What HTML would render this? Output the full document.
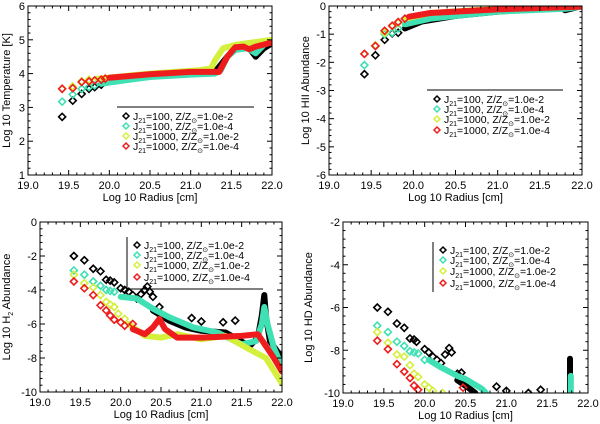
<!DOCTYPE html>
<html><head><meta charset="utf-8"><style>
html,body{margin:0;padding:0;background:#fff;}
svg{display:block;font-family:"Liberation Sans",sans-serif;}
</style></head><body>
<svg id="fig" width="600" height="424" viewBox="0 0 600 424" xmlns="http://www.w3.org/2000/svg"></svg>
<script>
// ---- data ----
const seriesNames = ["Z1e-2_J100","Z1e-4_J100","Z1e-2_J1000","Z1e-4_J1000"];
const seriesColors = ["#000000","#3ee0b4","#d4f03c","#ee1c1c"];
const legendJ = ["100","100","1000","1000"];
const legendZ = ["1.0e-2","1.0e-4","1.0e-2","1.0e-4"];
const xTicks = [19.0,19.5,20.0,20.5,21.0,21.5,22.0];
const xTickLabels = ["19.0","19.5","20.0","20.5","21.0","21.5","22.0"];

// Panel 1: temperature
const tempYTicks = [1,2,3,4,5,6];
const tempPtsX = [
 [19.42,19.55,19.66,19.75,19.82,19.9],
 [19.42,19.55,19.66,19.75,19.82],
 [19.42,19.55,19.66,19.75],
 [19.42,19.55,19.66,19.75,19.82,19.9,19.95]];
const tempPtsY = [
 [2.72,3.2,3.4,3.55,3.6,3.67],
 [3.17,3.38,3.55,3.6,3.65],
 [3.55,3.62,3.77,3.82],
 [3.55,3.57,3.75,3.77,3.8,3.82,3.85]];
const tempLineX = [
 [19.95,20.2,20.5,21.0,21.3,21.35,21.45,21.55,21.65,21.72,21.8,21.9,22.0],
 [19.9,20.5,21.0,21.3,21.37,21.45,21.55,21.7,21.8,21.9,22.0],
 [19.85,20.5,21.1,21.25,21.3,21.4,21.55,22.0],
 [20.0,20.5,21.0,21.35,21.45,21.55,21.65,21.72,21.8,22.0]];
const tempLineY = [
 [3.72,3.88,3.95,4.02,4.05,4.2,4.5,4.75,4.85,4.75,4.5,4.75,4.9],
 [3.7,3.9,3.97,4.0,4.1,4.5,4.7,4.75,4.6,4.85,4.95],
 [3.85,4.0,4.1,4.15,4.4,4.75,4.85,5.0],
 [3.88,3.98,4.05,4.05,4.5,4.78,4.8,4.72,4.8,4.92]];

// Panel 2: HII
const hiiYTicks = [-6,-5,-4,-3,-2,-1,0];
const hiiPtsX = [
 [19.42,19.55,19.66,19.75,19.82],
 [19.42,19.55,19.66,19.75,19.82],
 [19.42,19.55,19.66,19.75,19.82],
 [19.42,19.55,19.66,19.75,19.82,19.9]];
const hiiPtsY = [
 [-2.42,-1.75,-1.2,-0.97,-0.95],
 [-2.1,-1.42,-1.0,-0.95,-0.8],
 [-1.7,-1.4,-0.95,-0.72,-0.6],
 [-1.7,-1.42,-0.88,-0.7,-0.57,-0.45]];
const hiiLineX = [
 [19.9,20.1,20.5,21.0,21.5,21.75,21.8,22.0],
 [19.9,20.2,20.5,21.0,21.8,22.0],
 [19.9,20.2,21.0,22.0],
 [19.95,20.2,20.5,21.0,22.0]];
const hiiLineY = [
 [-0.8,-0.55,-0.35,-0.2,-0.1,-0.05,-0.15,0],
 [-0.65,-0.45,-0.35,-0.2,-0.1,-0.02],
 [-0.45,-0.25,-0.1,0],
 [-0.38,-0.25,-0.2,-0.12,-0.02]];

// Panel 3: H2
const h2YTicks = [-10,-8,-6,-4,-2,0];
const h2PtsX = [
 [19.42,19.55,19.66,19.75,19.82,19.87,19.92,20.0,20.05,20.1,20.15,20.2,20.25,20.3,20.33,20.36,20.4,20.48,20.88,21.0,21.27,21.42],
 [19.42,19.55,19.66,19.75,19.82,19.87,19.92],
 [19.42,19.55,19.66,19.75,19.82,19.87,19.92,19.97,20.05],
 [19.42,19.55,19.66,19.75,19.82,19.87,19.92,20.0,20.05,20.15]];
const h2PtsY = [
 [-2.0,-2.25,-2.75,-2.9,-3.4,-3.45,-3.55,-3.9,-4.0,-4.1,-4.3,-4.5,-4.25,-4.0,-3.8,-4.1,-4.4,-5.0,-5.65,-5.85,-5.9,-5.8],
 [-2.85,-3.1,-3.5,-3.75,-4.0,-4.05,-4.1],
 [-3.1,-3.6,-3.85,-4.3,-4.7,-4.85,-5.0,-5.4,-5.7],
 [-3.5,-3.9,-4.3,-4.9,-5.2,-5.5,-5.75,-5.9,-6.1,-6.0]];
const h2LineX = [
 [20.4,20.6,20.8,21.0,21.3,21.6,21.7,21.75,21.78,21.8,21.85,22.0],
 [20.0,20.2,20.4,20.6,20.9,21.2,21.5,21.68,21.75,21.78,21.82,21.9,22.0],
 [20.1,20.3,20.5,20.7,21.0,21.3,21.6,21.8,22.0],
 [20.15,20.3,20.4,20.48,20.55,20.7,21.0,21.5,21.7,21.8,21.9,22.0]];
const h2LineY = [
 [-5.2,-5.8,-6.2,-6.4,-6.5,-7.3,-6.8,-5.5,-4.3,-5.5,-7.0,-8.0],
 [-4.4,-4.5,-5.1,-5.6,-6.2,-6.5,-7.2,-7.0,-6.0,-5.0,-6.0,-7.4,-8.5],
 [-6.0,-6.7,-6.8,-6.6,-6.9,-6.7,-7.5,-8.0,-9.5],
 [-6.3,-6.6,-6.2,-5.7,-6.3,-6.8,-6.8,-6.7,-6.6,-7.3,-8.0,-8.8]];

// Panel 4: HD
const hdYTicks = [-10,-8,-6,-4,-2];
const hdPtsX = [
 [19.42,19.55,19.66,19.75,19.82,19.87,19.9,20.0,20.05,20.1,20.15,20.2,20.25,20.3,20.33,20.4,20.45,20.88,21.0,21.27,21.42],
 [19.42,19.55,19.66,19.75,19.82,19.87,19.92,20.0],
 [19.42,19.55,19.66,19.75,19.82,19.87,19.92,20.0,20.05,20.1,20.22],
 [19.42,19.55,19.66,19.75,19.82,19.87,19.92,20.47]];
const hdPtsY = [
 [-6.0,-6.2,-6.75,-6.95,-7.45,-7.5,-7.6,-7.95,-8.1,-8.3,-8.45,-8.6,-8.2,-7.9,-8.1,-9.1,-9.05,-9.7,-9.9,-10.0,-9.85],
 [-6.85,-7.15,-7.6,-7.8,-8.05,-8.1,-8.15,-8.45],
 [-7.15,-7.65,-8.2,-8.3,-8.7,-9.1,-9.25,-9.6,-9.75,-9.9,-10.0],
 [-7.55,-7.95,-8.65,-9.0,-9.3,-9.65,-9.85,-9.75]];
const hdLineX = [
 [20.4,20.55,20.62,null,21.78,21.78],
 [20.05,20.2,20.4,20.5,20.7,20.75,null,21.79,21.79],
 [],
 []];
const hdLineY = [
 [-9.4,-9.8,-10,null,-10,-8.4],
 [-8.45,-8.8,-9.2,-9.35,-9.8,-10,null,-10,-9.2],
 [],
 []];

// ---- drawing ----
const NS="http://www.w3.org/2000/svg";
const svg=document.getElementById('fig');
function mk(tag,attrs,parent){const e=document.createElementNS(NS,tag);for(const k in attrs)e.setAttribute(k,attrs[k]);(parent||svg).appendChild(e);return e;}

function panel(cfg){
  const g=mk('g',{});
  
  
  const {x0,x1,y0,y1,ymin,ymax}=cfg;
  const sx=v=>x0+(v-19)/(22-19)*(x1-x0);
  const sy=v=>y1-(v-ymin)/(ymax-ymin)*(y1-y0);
  const clip='clip-'+cfg.name;
  const cp=mk('clipPath',{id:clip},g);mk('rect',{x:x0,y:y0,width:x1-x0,height:y1-y0},cp);
  const data=mk('g',{'clip-path':'url(#'+clip+')'},g);
  for(let s=0;s<4;s++){
    const sg=mk('g',{},data);
    
    
    const lx=cfg.lx[s],ly=cfg.ly[s];
    let d='',pen=false;
    for(let i=0;i<lx.length;i++){
      if(lx[i]===null){pen=false;continue;}
      d+=(pen?'L':'M')+sx(lx[i]).toFixed(1)+','+sy(ly[i]).toFixed(1);pen=true;
    }
    if(d){const p=mk('path',{d:d,fill:'none',stroke:seriesColors[s],'stroke-width':6,'stroke-linejoin':'round','stroke-linecap':'round'},sg);
      
      }
    const px=cfg.px[s],py=cfg.py[s];
    for(let i=0;i<px.length;i++){
      const cx=sx(px[i]),cy=sy(py[i]),r=3.5;
      const m=mk('path',{d:`M${cx-r},${cy}L${cx},${cy-r}L${cx+r},${cy}L${cx},${cy+r}Z`,fill:'none',stroke:seriesColors[s],'stroke-width':1.6},sg);
      
      
    }
  }
  const fr=mk('rect',{x:x0,y:y0,width:x1-x0,height:y1-y0,fill:'none',stroke:'#000','stroke-width':1},g);
  
  
  for(let v=19;v<=22.001;v+=0.1){
    const major=Math.abs(v*2-Math.round(v*2))<1e-6;const L=major?5:2.5;const X=sx(v);
    mk('line',{x1:X,x2:X,y1:y1,y2:y1-L,stroke:'#000'},g);
    mk('line',{x1:X,x2:X,y1:y0,y2:y0+L,stroke:'#000'},g);
  }
  xTicks.forEach((v,i)=>{const t=mk('text',{x:sx(v),y:y1+14,'font-size':11,'text-anchor':'middle'},g);t.textContent=xTickLabels[i];
    
    });
  const yt=cfg.yt, step=yt[1]-yt[0], minor=step/5;
  for(let v=ymin;v<=ymax+1e-6;v+=minor){
    const major=Math.abs((v-ymin)/step-Math.round((v-ymin)/step))<1e-6;const L=major?5:2.5;const Y=sy(v);
    mk('line',{x1:x0,x2:x0+L,y1:Y,y2:Y,stroke:'#000'},g);
    mk('line',{x1:x1,x2:x1-L,y1:Y,y2:Y,stroke:'#000'},g);
  }
  yt.forEach(v=>{const t=mk('text',{x:x0-3,y:sy(v)+4,'font-size':11,'text-anchor':'end'},g);t.textContent=String(v);
    
    });
  const xt=mk('text',{x:(x0+x1)/2,y:y1+26,'font-size':11,'text-anchor':'middle'},g);xt.textContent='Log 10 Radius [cm]';
  
  
  const ytt=mk('text',{x:0,y:0,'font-size':11,'text-anchor':'middle',transform:`translate(${cfg.ytx},${(y0+y1)/2}) rotate(-90)`},g);
  ytt.innerHTML=cfg.ytitle;
  
  
  const lg=mk('g',{},g);
  
  
  const L=cfg.leg;
  if(L.hline) mk('line',{x1:L.hline[0],x2:L.hline[1],y1:L.hline[2],y2:L.hline[2],stroke:'#000'},lg);
  if(L.vline) mk('line',{x1:L.vline[0],x2:L.vline[0],y1:L.vline[1],y2:L.vline[2],stroke:'#000'},lg);
  for(let s=0;s<4;s++){
    const ey=L.ys[s];const cx=L.dx,r=3;
    const e=mk('g',{},lg);
    
    
    mk('path',{d:`M${cx-r},${ey}L${cx},${ey-r}L${cx+r},${ey}L${cx},${ey+r}Z`,fill:'none',stroke:seriesColors[s],'stroke-width':1.5},e);
    const t=mk('text',{x:L.tx,y:ey+4,'font-size':10.5},e);
    t.innerHTML=`J<tspan dy="3" font-size="7">21</tspan><tspan dy="-3">=${legendJ[s]}, Z/Z</tspan><tspan dy="3" font-size="7">⊙</tspan><tspan dy="-3">=${legendZ[s]}</tspan>`;
  }
}

panel({name:'temperature-panel',x0:28,x1:272,y0:6,y1:175,ymin:1,ymax:6,yt:tempYTicks,
  px:tempPtsX,py:tempPtsY,lx:tempLineX,ly:tempLineY,ytx:10,
  ytitle:'Log 10 Temperature [K]',
  leg:{hline:[117,254,107],ys:[116,126,136,146],dx:126,tx:133}});
panel({name:'hii-panel',x0:329,x1:582,y0:6,y1:175,ymin:-6,ymax:0,yt:hiiYTicks,
  px:hiiPtsX,py:hiiPtsY,lx:hiiLineX,ly:hiiLineY,ytx:309,
  ytitle:'Log 10 HII Abundance',
  leg:{hline:[427,563,90],ys:[99,109,119,130],dx:437,tx:444}});
panel({name:'h2-panel',x0:40,x1:282,y0:222,y1:392,ymin:-10,ymax:0,yt:h2YTicks,
  px:h2PtsX,py:h2PtsY,lx:h2LineX,ly:h2LineY,ytx:10,
  ytitle:'Log 10 H<tspan dy="3" font-size="7">2</tspan><tspan dy="-3"> Abundance</tspan>',
  leg:{hline:[127,263,289],vline:[127,237,289],ys:[245,255,265,277],dx:137,tx:144}});
panel({name:'hd-panel',x0:343,x1:588,y0:222,y1:393,ymin:-10,ymax:-2,yt:hdYTicks,
  px:hdPtsX,py:hdPtsY,lx:hdLineX,ly:hdLineY,ytx:312,
  ytitle:'Log 10 HD Abundance',
  leg:{vline:[433,242,292],ys:[250,260,271,283],dx:443,tx:450}});
</script>
</body></html>
